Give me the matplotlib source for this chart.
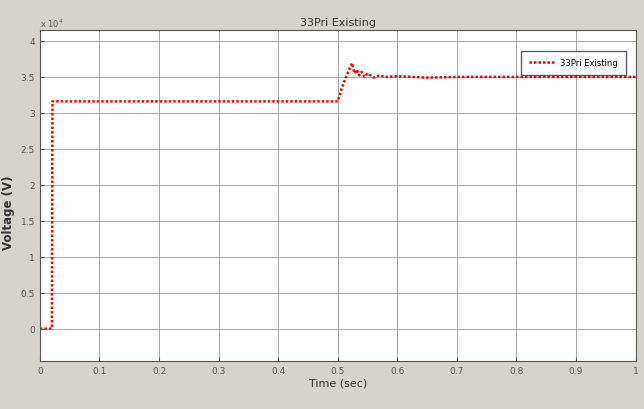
import numpy as np
from matplotlib import pyplot as plt

# simulated voltage on 33Pri bus (x10^4 V)
t = [0, 0.02, 0.021, 0.50, 0.505, 0.51, 0.515, 0.52, 0.524, 0.528, 0.532,
     0.536, 0.54, 0.545, 0.55, 0.56, 0.57, 0.58, 0.60, 0.65, 0.70, 1.0]
v = [0, 0, 3.16, 3.16, 3.3, 3.42, 3.52, 3.62, 3.69, 3.55, 3.6,
     3.52, 3.57, 3.5, 3.55, 3.49, 3.52, 3.5, 3.51, 3.49, 3.5, 3.5]

v = np.array(v) * 1e4

fig = plt.figure(figsize=(6.44, 4.10), dpi=100, facecolor='#d6d3cc')
ax = fig.add_axes([0.062, 0.117, 0.925, 0.807])
ax.plot(t, v, color='red', linestyle=(0, (1, 0.8)), linewidth=1.8, label='33Pri Existing')

ax.set_xlim(0, 1)
ax.set_ylim(-0.45e4, 4.15e4)
ax.set_xticks(np.arange(0, 1.01, 0.1))
ax.set_xticklabels(['0', '0.1', '0.2', '0.3', '0.4', '0.5', '0.6', '0.7', '0.8', '0.9', '1'])
ax.set_yticks(np.arange(0, 4.01e4, 0.5e4))
ax.set_yticklabels(['0', '0.5', '1', '1.5', '2', '2.5', '3', '3.5', '4'])
ax.tick_params(labelsize=6.5, colors='#555555', direction='in', length=3)
ax.grid(True, color='#999999', linewidth=0.6)
for s in ax.spines.values():
    s.set_color('#555555')
ax.text(0, 1.01, r'x 10$^4$', transform=ax.transAxes, fontsize=6, color='#555555')

ax.set_title('33Pri Existing', fontsize=8, color='#333333', pad=4)
ax.set_xlabel('Time (sec)', fontsize=8, color='#333333', labelpad=2)
ax.set_ylabel('Voltage (V)', fontsize=8.5, color='#333333', fontweight='bold')
ax.yaxis.set_label_coords(-0.042, 0.45)
leg = ax.legend(loc='upper right', bbox_to_anchor=(0.99, 0.95), fontsize=6, fancybox=False,
                edgecolor='#333333', handlelength=3, borderpad=0.9)

plt.savefig('out.png', facecolor=fig.get_facecolor())
